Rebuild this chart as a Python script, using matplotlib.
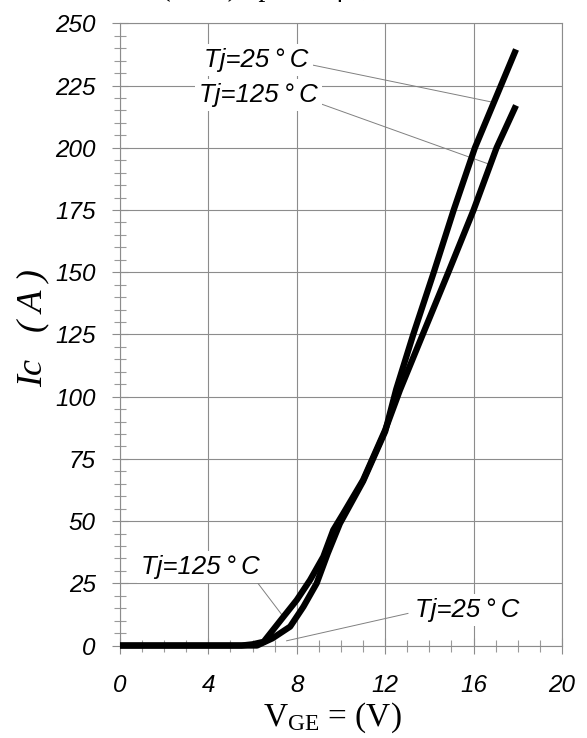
import matplotlib
matplotlib.use("Agg")
import matplotlib.pyplot as plt
from matplotlib.ticker import MultipleLocator

# ---- data ----
v_25 = [0, 6.2, 6.9, 7.7, 8.3, 8.9, 9.4, 9.95, 11.0, 12.0, 12.5, 13.27, 14.2, 15.1, 16.06, 17.92]
i_25 = [0, 0, 2.9, 7.6, 15.6, 25, 37, 49, 66, 86, 103, 125, 150, 175, 200, 239.5]

v_125 = [0, 5.5, 6.0, 6.5, 7.4, 8.0, 8.6, 9.2, 9.65, 10.1, 11.0, 12.0, 12.67, 13.7, 14.86, 16.0, 17.04, 17.92]
i_125 = [0, 0, 0.5, 1.5, 11.6, 18.3, 26.3, 35.7, 46.4, 53, 66.5, 86.6, 102.7, 125, 150, 175, 200, 217]

x_ticks = [0, 4, 8, 12, 16, 20]
y_ticks = [0, 25, 50, 75, 100, 125, 150, 175, 200, 225, 250]

labels = ["Tj=25\u2009°\u2009C", "Tj=125\u2009°\u2009C", "Tj=125\u2009°\u2009C", "Tj=25\u2009°\u2009C"]
label_xy = [(6.18, 235.2), (6.27, 221.2), (3.62, 31.7), (15.72, 14.3)]
leader_start = [(8.73, 233.2), (8.82, 218.5), (6.02, 27.6), (13.03, 12.9)]
leader_end = [(16.97, 218.1), (16.67, 193.5), (7.39, 11.6), (7.54, 1.9)]

plt.rcParams['mathtext.fontset'] = 'custom'
plt.rcParams['mathtext.rm'] = 'Liberation Serif'
plt.rcParams['mathtext.it'] = 'Liberation Serif:italic'

fig = plt.figure(figsize=(5.87, 7.38), dpi=100)
ax = fig.add_axes([0.2044, 0.1253, 0.753, 0.8431])

grid_c = '#8c8c8c'
ax.set_xlim(0, 20)
ax.set_ylim(0, 250)
ax.xaxis.set_minor_locator(MultipleLocator(1))
ax.yaxis.set_minor_locator(MultipleLocator(5))
ax.set_xticks(x_ticks)
ax.set_yticks(y_ticks)
ax.grid(True, which='major', color=grid_c, linewidth=0.8)
ax.set_axisbelow(True)
for s in ax.spines.values():
    s.set_color(grid_c)
    s.set_linewidth(0.8)

ax.tick_params(which='major', direction='inout', length=11, width=0.8, color=grid_c)
ax.tick_params(which='minor', direction='inout', length=8, width=0.8, color='#9a9a9a')
ax.tick_params(axis='x', which='major', pad=15)
ax.tick_params(axis='y', which='major', pad=12)
for lab in ax.get_xticklabels() + ax.get_yticklabels():
    lab.set_fontfamily('Liberation Sans')
    lab.set_fontstyle('italic')
    lab.set_fontsize(17.5)

ax.plot(v_25, i_25, color='black', lw=4.5, solid_capstyle='butt', solid_joinstyle='round', zorder=5, clip_on=False)
ax.plot(v_125, i_125, color='black', lw=4.5, solid_capstyle='butt', solid_joinstyle='round', zorder=5, clip_on=False)

for (t, (tx, ty), (sx, sy), (ex, ey)) in zip(labels, label_xy, leader_start, leader_end):
    ax.plot([sx, ex], [sy, ey], color='#808080', lw=0.7, zorder=4)
    ax.text(tx, ty, t, ha='center', va='center', fontsize=18.5,
            family=['Liberation Sans', 'DejaVu Sans'], style='italic', zorder=6,
            bbox=dict(facecolor='white', edgecolor='none', pad=3))

ax.set_ylabel("Ic   ( A )", fontfamily='Liberation Serif', fontstyle='italic', fontsize=26)
ax.yaxis.set_label_coords(-0.16, 0.51)
ax.set_xlabel(r"V$_{\mathrm{GE}}$ = (V)", fontfamily='Liberation Serif', fontsize=24)
ax.xaxis.label.set_va('center')
ax.xaxis.set_label_coords(0.48, -0.1165)

fig.text(0.52, 1.005, "Ic = f (VGE), tp = 80 μs; VCE = 20 V",
         ha='center', va='baseline', fontsize=20, family='Liberation Serif')

fig.savefig("out.png", dpi=100)
